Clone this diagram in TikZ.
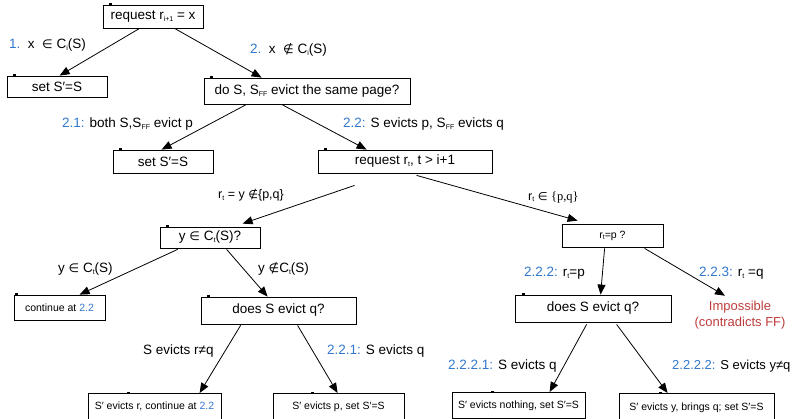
\documentclass[tikz,border=0pt]{standalone}
\usepackage{fontspec}
\setmainfont{Liberation Sans}
\newfontfamily\serifF{Liberation Serif}
\newfontfamily\symF{DejaVu Sans}[Scale=0.9]
\usetikzlibrary{arrows.meta,calc}
\definecolor{lblue}{RGB}{50,120,205}
\definecolor{ired}{RGB}{190,60,60}
\newcommand{\sbs}[1]{\raisebox{-0.25ex}{\fontsize{7}{7}\selectfont #1}}
\newcommand{\bl}[1]{\textcolor{lblue}{#1}}
\newcommand{\sy}[1]{{\symF #1}}
\newcommand{\tk}[2]{\fill ($(#1.north west)+(#2,-1.2)$) rectangle ++(3.5,2);}
\begin{document}
\begin{tikzpicture}[x=1pt,y=-1pt,
  box/.style={draw,line width=0.8pt,rectangle,inner sep=0pt,font=\fontsize{13.5}{16}\selectfont},
  sbox/.style={box,font=\fontsize{10.5}{12}\selectfont},
  lab/.style={anchor=west,inner sep=0pt,font=\fontsize{13.5}{16}\selectfont},
  arr/.style={line width=0.8pt,-{Triangle[length=10pt,width=8pt]}}]
\useasboundingbox (0,0) rectangle (797,418);
% boxes
\node[box,minimum width=100,minimum height=23] (r1) at (153,16.5) {request r\sbs{i+1} = x};
\node[box,minimum width=100,minimum height=21] (s1) at (57,86.5) {set S′=S};
\node[box,minimum width=206,minimum height=26] (d1) at (307,91) {do S, S\sbs{FF} evict the same page?};
\node[box,minimum width=100,minimum height=23] (s2) at (163,161.5) {set S′=S};
\node[box,minimum width=174,minimum height=23] (rt) at (405,161.5) {request r\sbs{t}, t > i+1};
\node[box,minimum width=100,minimum height=21] (yq) at (210,237.5) {y \sy{∈} C\sbs{t}(S)?};
\node[sbox,minimum width=101,minimum height=23] (rp) at (612.5,235.5) {r\sbs{t}=p ?};
\node[sbox,minimum width=91,minimum height=25] (ct) at (59.5,307.5) {continue at \bl{2.2}};
\node[box,minimum width=155,minimum height=27] (eL) at (278.5,310.5) {does S evict q?};
\node[box,minimum width=156,minimum height=27] (eR) at (593,308.5) {does S evict q?};
\node[inner sep=0pt,align=center,text=ired,font=\fontsize{13}{16}\selectfont] (imp) at (740,315) {Impossible\\(contradicts FF)};
\node[sbox,anchor=north,minimum width=133,minimum height=26] (b1) at (154.5,393) {S′ evicts r, continue at \bl{2.2}};
\node[sbox,anchor=north,minimum width=131,minimum height=26] (b2) at (338.5,393) {S′ evicts p, set S′=S};
\node[sbox,anchor=north,minimum width=133,minimum height=26] (b3) at (518.5,392) {S′ evicts nothing, set S′=S};
\node[sbox,anchor=north,minimum width=155,minimum height=28] (b4) at (696.5,393) {S′ evicts y, brings q; set S′=S};
% tick marks
\tk{r1}{6}\tk{s1}{6}\tk{d1}{6}\tk{s2}{6}\tk{rt}{6}\tk{yq}{6}\tk{ct}{1}\tk{eL}{6}\tk{eR}{7}
\tk{b1}{39}\tk{b2}{38}\tk{b3}{39}\tk{b4}{40}
% arrows
\draw[arr] ($(r1.south west)+(37,0)$) -- ($(s1.north west)+(53,0)$);
\draw[arr] ($(r1.south west)+(72,0)$) -- ($(d1.north west)+(58,0)$);
\draw[arr] ($(d1.south west)+(43,0)$) -- ($(s2.north west)+(49,0)$);
\draw[arr] ($(d1.south west)+(78,0)$) -- ($(rt.north west)+(49,0)$);
\draw[arr] ($(rt.south west)+(37,12)$) -- ($(yq.north west)+(83,-3)$);
\draw[arr] ($(rt.south west)+(99,2)$) -- ($(rp.north west)+(16,-3)$);
\draw[arr] ($(yq.south west)+(18,1)$) -- ($(ct.north west)+(66,0)$);
\draw[arr] ($(yq.south west)+(67,1)$) -- ($(eL.north west)+(67,0)$);
\draw[arr] ($(rp.south west)+(43,1)$) -- ($(eR.north west)+(86,0)$);
\draw[arr] ($(rp.south west)+(83,1)$) -- ($(imp.north)+(-15,-5)$);
\draw[arr] ($(eL.south west)+(40,1)$) -- ($(b1.north west)+(112,0)$);
\draw[arr] ($(eL.south west)+(97,1)$) -- ($(b2.north west)+(65,0)$);
\draw[arr] ($(eR.south west)+(72,2)$) -- ($(b3.north west)+(98,0)$);
\draw[arr] ($(eR.south west)+(102,2)$) -- ($(b4.north west)+(49,0)$);
% labels
\node[lab] (l1) at (9,45) {\bl{1.}\ \ x \ \sy{∈} C\sbs{i}(S)};
\node[lab] (l2) at (250,50) {\bl{2.}\ \ x \ \sy{∉} C\sbs{i}(S)};
\node[lab] (l21) at (62,124) {\bl{2.1:} both S,S\sbs{FF} evict p};
\node[lab] (l22) at (343,124) {\bl{2.2:} S evicts p, S\sbs{FF} evicts q};
\node[lab,font=\fontsize{12.5}{14}\selectfont] (ly) at (218,195) {r\sbs{t} = y \sy{∉}\{p,q\}};
\node[lab,font=\fontsize{12.5}{14}\selectfont] (lpq) at (528,197) {r\sbs{t} \sy{∈} {\serifF\{p,q\}}};
\node[lab] (lyin) at (58,269) {y \sy{∈} C\sbs{t}(S)};
\node[lab] (lyout) at (258,269) {y \sy{∉}C\sbs{t}(S)};
\node[lab] (l222) at (524,273) {\bl{2.2.2:} r\sbs{t}=p};
\node[lab] (l223) at (699,273) {\bl{2.2.3:} r\sbs{t} =q};
\node[lab] (lr) at (143,351) {S evicts r≠q};
\node[lab] (l221) at (327,351) {\bl{2.2.1:} S evicts q};
\node[lab] (l2221) at (448,366) {\bl{2.2.2.1:} S evicts q};
\node[lab,font=\fontsize{13}{16}\selectfont] (l2222) at (672,366) {\bl{2.2.2.2:} S evicts y≠q};
\end{tikzpicture}
\end{document}
